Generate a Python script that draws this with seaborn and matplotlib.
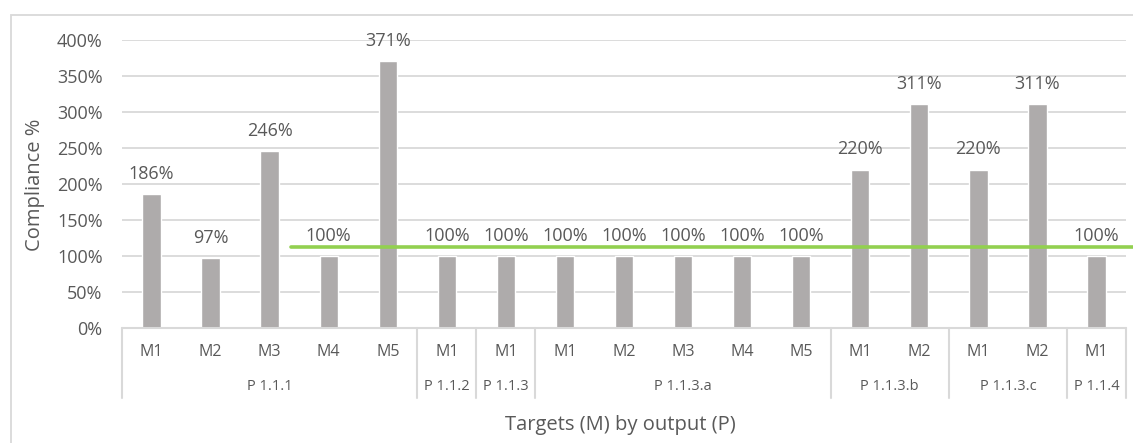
import pandas as pd
import numpy as np
import matplotlib.pyplot as plt
import seaborn as sns
from matplotlib.patches import Rectangle

# data
outputs = ['P 1.1.1'] * 5 + ['P 1.1.2', 'P 1.1.3'] + ['P 1.1.3.a'] * 5 + \
          ['P 1.1.3.b'] * 2 + ['P 1.1.3.c'] * 2 + ['P 1.1.4']
targets = ['M1', 'M2', 'M3', 'M4', 'M5', 'M1', 'M1', 'M1', 'M2', 'M3', 'M4', 'M5',
           'M1', 'M2', 'M1', 'M2', 'M1']
compliance = [186, 97, 246, 100, 371, 100, 100, 100, 100, 100, 100, 100,
              220, 311, 220, 311, 100]
target_line = 112
yticks = [0, 50, 100, 150, 200, 250, 300, 350, 400]

df = pd.DataFrame({'output': outputs, 'target': targets, 'value': compliance})
df['key'] = df['output'] + ' ' + df['target']

sns.set_theme(style='white')
plt.rcParams['font.family'] = ['Open Sans', 'DejaVu Sans']

textColor = '#595959'
gridColor = '#D9D9D9'

W, H = 1133, 443
fig = plt.figure(figsize=(W / 100, H / 100), dpi=100)
ax = fig.add_axes([122 / W, 1 - 328 / H, (1126 - 122) / W, (328 - 40) / H])

sns.barplot(data=df, x='key', y='value', color='#AEABAB', width=0.31,
            saturation=1, ax=ax, zorder=2)

ax.set_xlim(-0.5, len(df) - 0.5)
ax.set_ylim(0, 400)
ax.set_yticks(yticks)
ax.set_yticklabels([str(v) + '%' for v in yticks], color=textColor, fontsize=13)
ax.tick_params(axis='y', length=0, pad=14)
ax.set_ylabel('')
ax.yaxis.grid(True, color=gridColor, linewidth=1.3, zorder=0)
ax.set_axisbelow(True)
for s in ax.spines.values():
    s.set_visible(False)

# data labels
for i, v in enumerate(df['value']):
    ax.annotate(str(v) + '%', (i, v), xytext=(0, 8), textcoords='offset points',
                ha='center', va='bottom', color=textColor, fontsize=13)

# target line
start = 2.36
ax.plot([start, len(df) - 0.5 + 0.12], [target_line, target_line], color='#92D050',
        linewidth=2.6, clip_on=False, zorder=3)

# category axis: targets + outputs
ax.set_xticks(range(len(df)))
ax.set_xticklabels(df['target'], color=textColor, fontsize=11.5, va='center')
ax.tick_params(axis='x', length=0, pad=17)
ax.set_xlabel('')
trans = ax.get_xaxis_transform()
ax.plot([-0.5, len(df) - 0.5], [0, 0], transform=trans, color=gridColor,
        linewidth=1.5, clip_on=False)

bounds = [0]
for i in range(1, len(df)):
    if outputs[i] != outputs[i - 1]:
        bounds.append(i)
bounds.append(len(df))
for b in bounds:
    ax.plot([b - 0.5, b - 0.5], [0, -70 / 288], transform=trans, color=gridColor,
            linewidth=1.5, clip_on=False)
for a, b in zip(bounds[:-1], bounds[1:]):
    ax.text((a + b - 1) / 2, -59 / 288, outputs[a], transform=trans, ha='center',
            va='center', color=textColor, fontsize=10.5)

fig.text(620 / W, 1 - 425 / H, 'Targets (M) by output (P)', ha='center', va='center',
         color=textColor, fontsize=14.5)
fig.text(35 / W, 1 - 185 / H, 'Compliance %', ha='center', va='center',
         rotation=90, color=textColor, fontsize=14.5)

# chart border
fig.patches.append(Rectangle((11 / W, -0.1), 1.2, (H - 15) / H + 0.1,
                             transform=fig.transFigure, fill=False,
                             edgecolor=gridColor, linewidth=1.3))

plt.savefig('out.png', dpi=100)
plt.close()
